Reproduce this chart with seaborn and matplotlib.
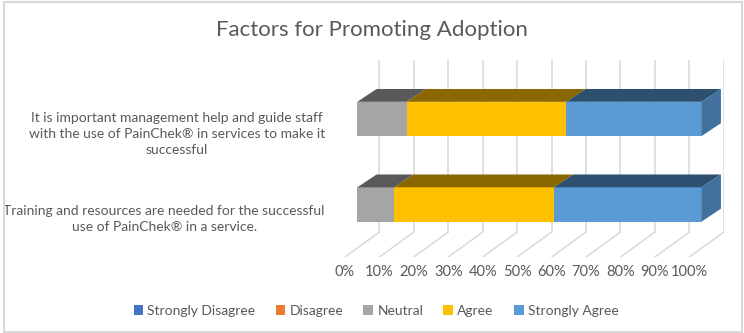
# -*- coding: utf-8 -*-
import numpy as np
import pandas as pd
import matplotlib
matplotlib.use("Agg")
import matplotlib.pyplot as plt
from matplotlib.patches import Patch, Polygon, Rectangle
import seaborn as sns

# data (percent of respondents)
categories = [
    "It is important management help and guide staff\nwith the use of PainChek\u00ae in services to make it\nsuccessful",
    "Training and resources are needed for the successful\nuse of PainChek\u00ae in a service.",
]
series = ["Strongly Disagree", "Disagree", "Neutral", "Agree", "Strongly Agree"]
strongly_disagree = [0.0, 0.0]
disagree = [0.0, 0.0]
neutral = [14.3, 10.7]
agree = [46.4, 46.4]
strongly_agree = [39.3, 42.9]
x_ticks = list(range(0, 101, 10))
x_labels = [f"{t}%" for t in x_ticks]

colors = ["#4472C4", "#ED7D31", "#A5A5A5", "#FFC000", "#5B9BD5"]
top_colors = ["#2b4a80", "#9a4f1c", "#595959", "#8a6700", "#2e5070"]
side_color = "#41719C"
text_color = "#595959"
grid_color = "#d9d9d9"

# 3D look (oblique projection) in data units
bar_h = 0.40
bar_dx, bar_dy = 5.6, 0.15          # depth of the bars
wall_dx = 6.43                      # back wall x offset from bar front plane
floor_dx = -3.57                    # floor front x offset from bar front plane
wall_top, wall_bottom, floor_front = -0.689, 1.323, 1.615

W, H = 744, 333
sns.set_theme(style="white")
plt.rcParams["font.family"] = ["Lato", "DejaVu Sans"]

fig = plt.figure(figsize=(W / 100, H / 100), dpi=100)
ax_l, ax_r, ax_t, ax_b = 345, 723.8, 60, 257
ax = fig.add_axes([ax_l / W, 1 - ax_b / H, (ax_r - ax_l) / W, (ax_b - ax_t) / H])

# ------------------
# stacked bars (front faces)
# ------------------
values = np.array([strongly_disagree, disagree, neutral, agree, strongly_agree])
cum = values.cumsum(axis=0)
for i in range(len(series) - 1, -1, -1):
    df = pd.DataFrame({"value": cum[i], "cat": categories})
    sns.barplot(data=df, x="value", y="cat", orient="h", color=colors[i],
                saturation=1, width=bar_h, ax=ax, zorder=3, linewidth=0)

# top and side faces
ypos = np.arange(len(categories))
for i in range(len(series)):
    left = cum[i] - values[i]
    right = cum[i]
    for c in range(len(categories)):
        if values[i][c] <= 0:
            continue
        yt = ypos[c] - bar_h / 2
        ax.add_patch(Polygon([(left[c], yt), (right[c], yt),
                              (right[c] + bar_dx, yt - bar_dy),
                              (left[c] + bar_dx, yt - bar_dy)],
                             closed=True, fc=top_colors[i], ec="none", zorder=3))
for c in range(len(categories)):
    end = cum[-1][c]
    yt, yb = ypos[c] - bar_h / 2, ypos[c] + bar_h / 2
    ax.add_patch(Polygon([(end, yt), (end, yb), (end + bar_dx, yb - bar_dy),
                          (end + bar_dx, yt - bar_dy)],
                         closed=True, fc=side_color, ec="none", zorder=3))

# back wall and floor gridlines
for t in x_ticks:
    ax.plot([t + wall_dx, t + wall_dx], [wall_top, wall_bottom],
            color=grid_color, lw=1.1, zorder=1)
    ax.plot([t + wall_dx, t + floor_dx], [wall_bottom, floor_front],
            color=grid_color, lw=1.1, zorder=1)

ax.set_xlim(floor_dx, 100 + wall_dx)
ax.set_ylim(floor_front, wall_top)
ax.set_xticks(np.array(x_ticks) + floor_dx, x_labels)
ax.set_yticks(ypos + 0.14, categories)
ax.tick_params(axis="x", length=0, pad=6, labelsize=10.5, colors=text_color)
ax.tick_params(axis="y", length=0, pad=14.5, labelsize=10, colors=text_color)
for lab in ax.get_yticklabels():
    lab.set_multialignment("center")
    lab.set_linespacing(1.4)
ax.set_xlabel("")
ax.set_ylabel("")
for s in ax.spines.values():
    s.set_visible(False)
ax.patch.set_alpha(0)

# title
fig.text(0.5, 1 - 30 / H, "Factors for Promoting Adoption", ha="center", va="center",
         fontsize=16, color=text_color)

# legend
handles = [Patch(fc=colors[i], ec="none", label=series[i]) for i in range(len(series))]
fig.legend(handles=handles, loc="center", bbox_to_anchor=(376 / W, 1 - 311 / H),
           ncol=5, frameon=False, fontsize=10, labelcolor=text_color,
           handlelength=0.7, handleheight=0.7, handletextpad=0.3, columnspacing=1.45)

# chart border
fig.patches.append(Rectangle((4 / W, 1 / H), 738 / W, 330 / H, transform=fig.transFigure,
                             fill=False, ec=grid_color, lw=1.5))

fig.savefig("out.png", dpi=100)
